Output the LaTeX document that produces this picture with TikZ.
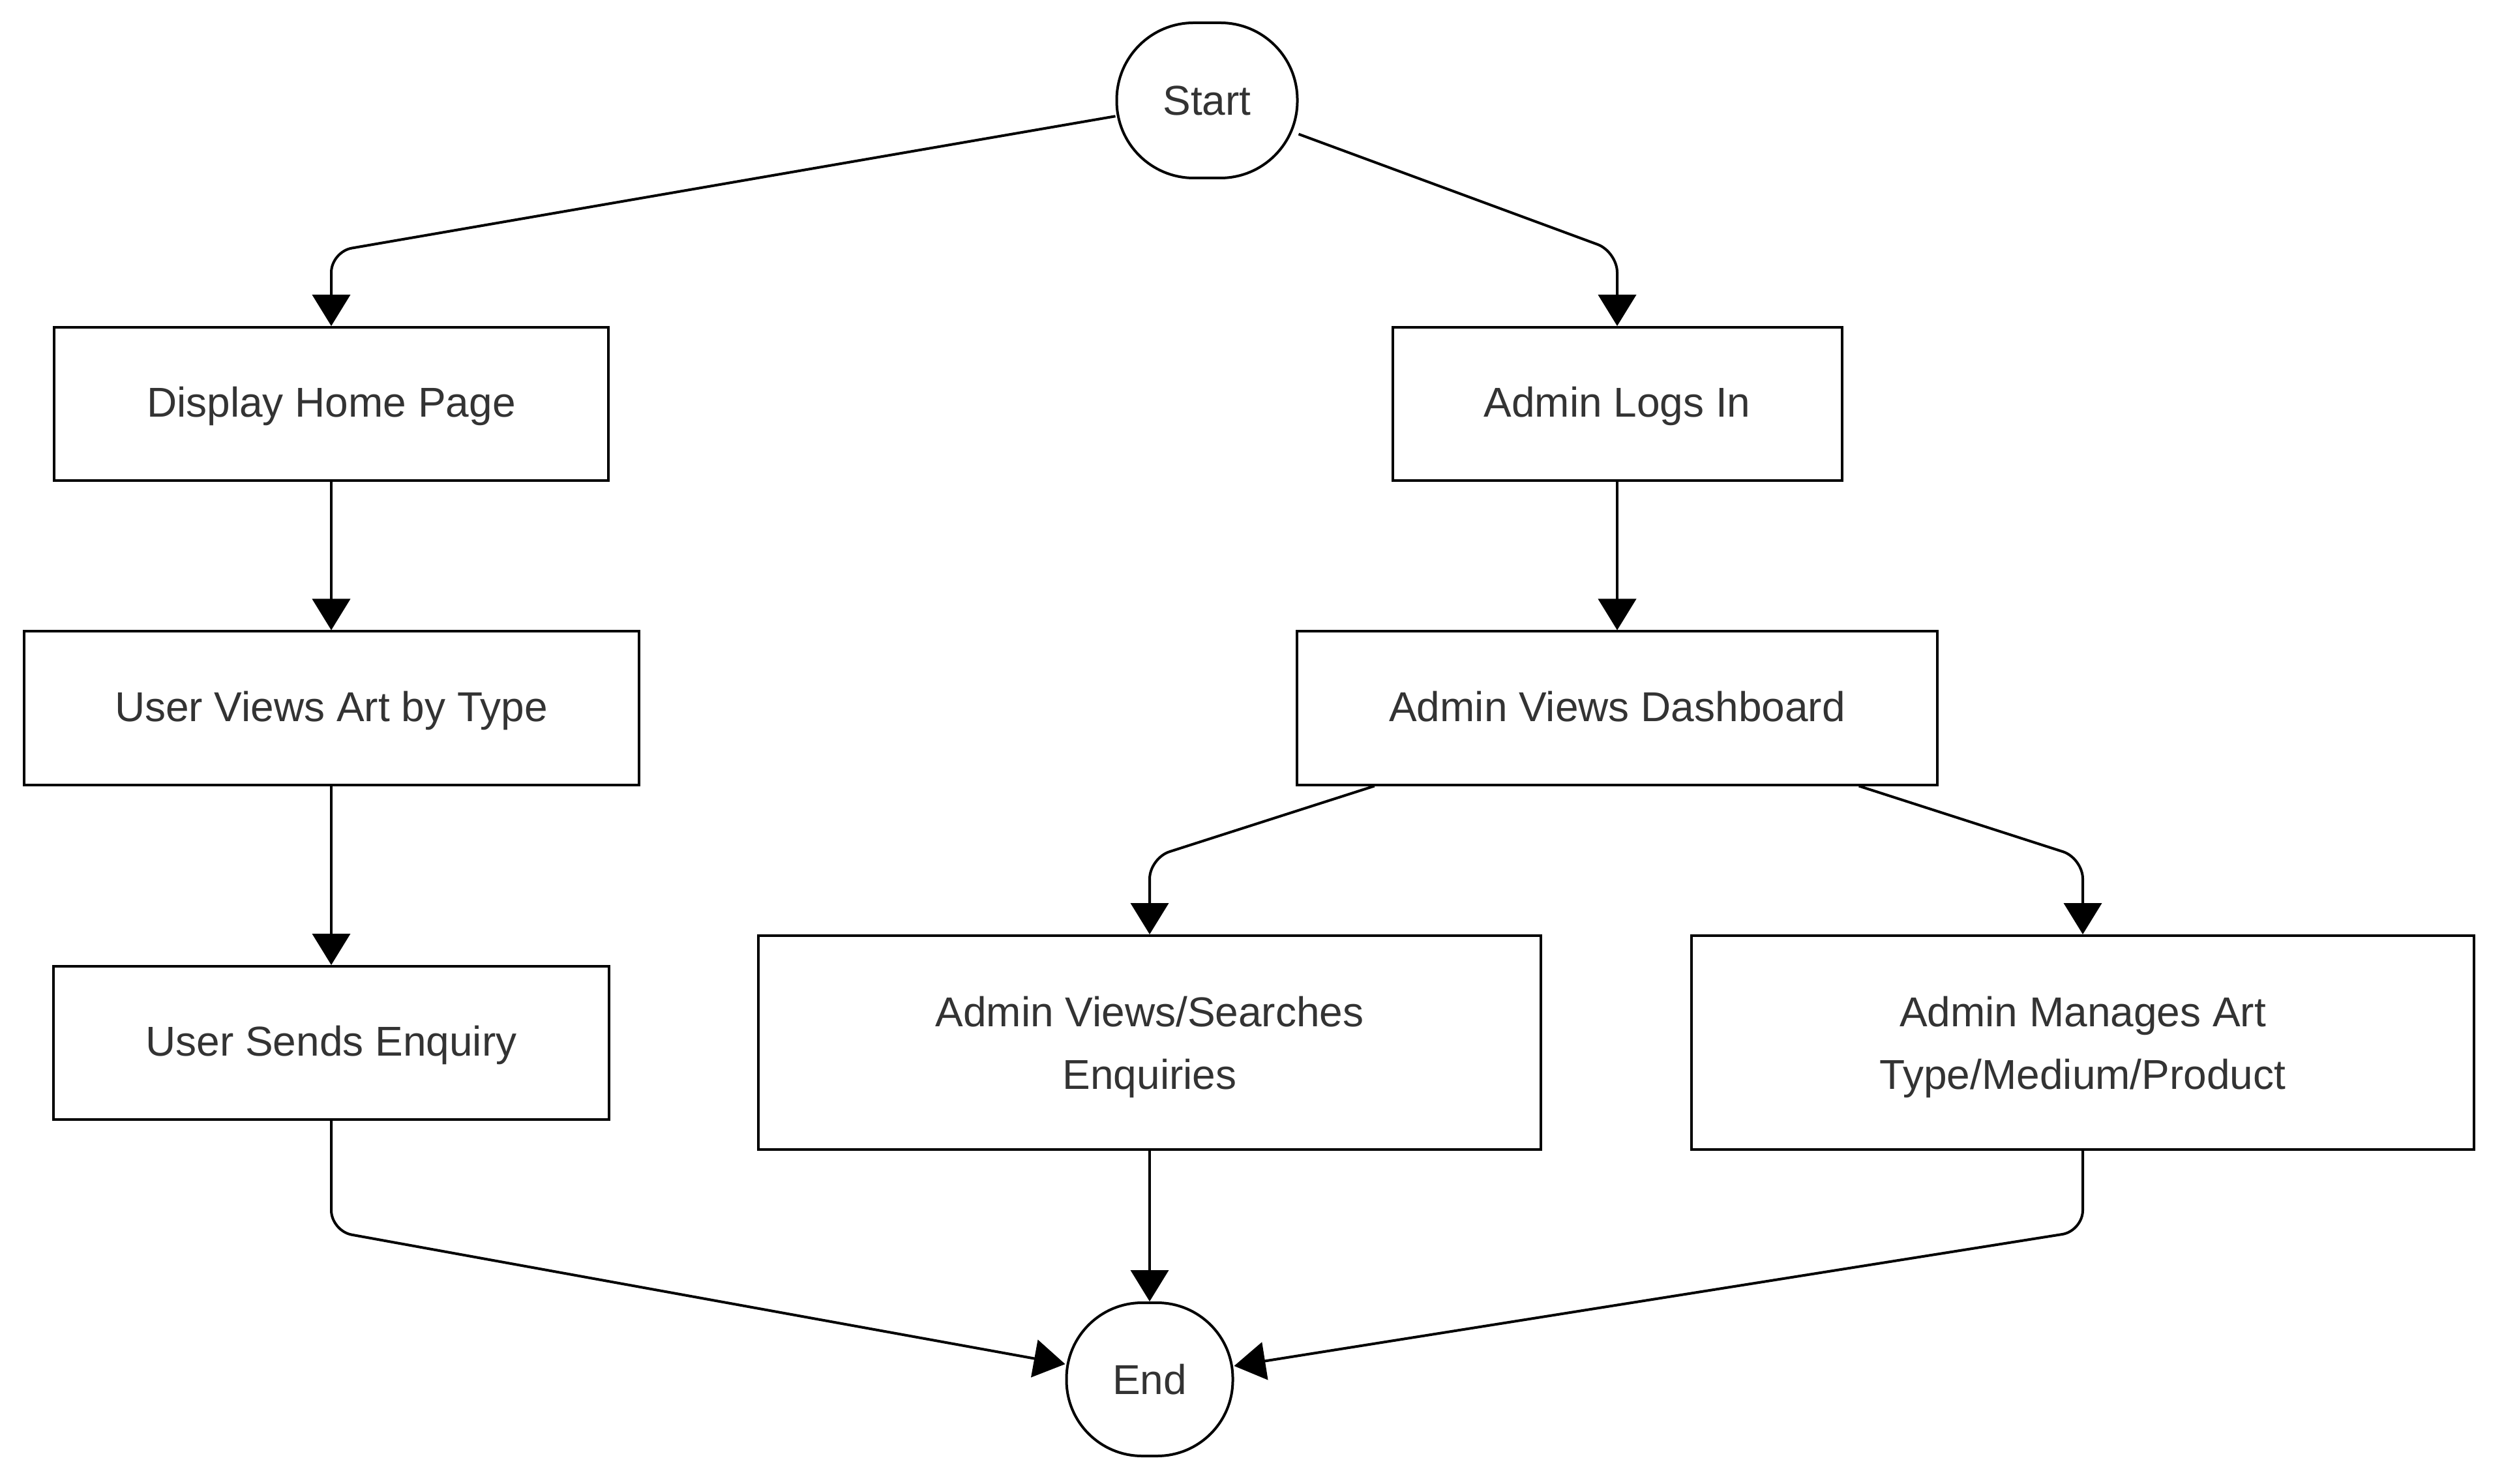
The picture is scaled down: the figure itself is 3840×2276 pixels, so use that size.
\documentclass[tikz,border=0pt]{standalone}
\usepackage{fontspec}
\setmainfont{Liberation Sans}
\usetikzlibrary{arrows.meta}
\definecolor{txt}{HTML}{333333}
\begin{document}
\begin{tikzpicture}[x=0.25pt,y=-0.25pt,
  every node/.style={font=\fontsize{16pt}{24pt}\selectfont, text=txt, inner sep=0pt, align=center},
  box/.style={draw=black, line width=1pt, fill=white, minimum height=58.75pt, text depth=1.5pt},
  twoline/.style={box, minimum width=300pt, minimum height=82pt, text depth=0pt},
  term/.style={draw=black, line width=1pt, fill=white},
  conn/.style={draw=black, line width=1pt, rounded corners=8pt, -{Triangle[width=14.5pt,length=12pt]}}
]
\useasboundingbox (0,0) rectangle (3840,2276);

\node[term, rounded corners=29.5pt, minimum width=69.25pt, minimum height=59.5pt] (start) at (1851,154) {Start};
\node[box, minimum width=212.5pt] (dhp) at (508,619.5) {Display Home Page};
\node[box, minimum width=235.75pt] (uvat) at (508,1086) {User Views Art by Type};
\node[box, minimum width=213pt] (use) at (508,1599.5) {User Sends Enquiry};
\node[box, minimum width=172.25pt] (ali) at (2480,619.5) {Admin Logs In};
\node[box, minimum width=245.5pt] (avd) at (2480,1086) {Admin Views Dashboard};
\node[twoline] (avse) at (1763,1599) {Admin Views/Searches\\Enquiries};
\node[twoline] (ama) at (3194,1599) {Admin Manages Art\\Type/Medium/Product};
\node[term, rounded corners=29pt, minimum width=63.75pt, minimum height=58.75pt] (end) at (1763,2115.5) {End};

\draw[conn] (start) -- (508,386) -- (dhp.north);
\draw[conn] (start) -- (2480,386) -- (ali.north);
\draw[conn] (dhp) -- (uvat);
\draw[conn] (uvat) -- (use);
\draw[conn] (ali) -- (avd);
\draw[conn] (avd) -- (1763,1316) -- (avse.north);
\draw[conn] (avd) -- (3194,1316) -- (ama.north);
\draw[conn] (avse) -- (end);
\draw[conn] (use.south) -- (508,1888) -- (end);
\draw[conn] (ama.south) -- (3194,1888) -- (end);
\end{tikzpicture}
\end{document}
